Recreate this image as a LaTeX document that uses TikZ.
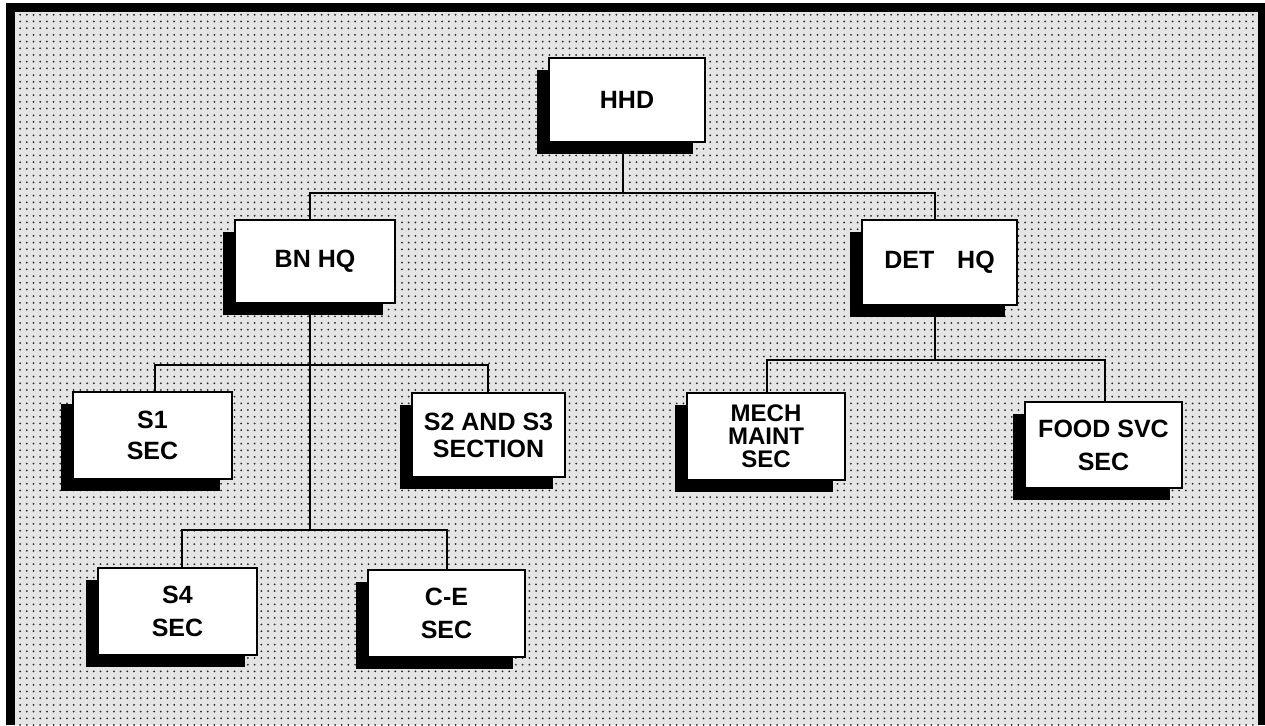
\documentclass[tikz,border=0pt]{standalone}
\usepackage{fontspec}
\setmainfont{Liberation Sans}
\usetikzlibrary{shadows,patterns.meta}
\pgfdeclarelayer{bg}
\pgfdeclarelayer{conn}
\pgfsetlayers{bg,conn,main}
\begin{document}
\begin{tikzpicture}[x=1pt,y=-1pt,
  box/.style={draw=black,line width=1.1pt,fill=white,align=center,inner sep=0pt,
    font=\fontsize{25}{31}\selectfont\bfseries,
    general shadow={fill=black,shadow xshift=-12pt,shadow yshift=-12pt}},
  conn/.style={draw=black,line width=1.6pt}]
\useasboundingbox (0,0) rectangle (1265,725);
\begin{pgfonlayer}{bg}
\fill[white] (0,0) rectangle (1265,725);
\fill[black!10] (15,12) rectangle (1258,725);
\fill[pattern={Dots[distance=6.7pt,radius=1pt]},pattern color=black!85] (15,12) rectangle (1258,725);
\draw[line width=9pt] (10.5,725) -- (10.5,7.5) -- (1262,7.5);
\draw[line width=7pt] (1261.5,3) -- (1261.5,725);
\end{pgfonlayer}

\node[box,minimum width=156pt,minimum height=84pt] (hhd) at (627,100) {HHD};
\node[box,minimum width=160pt,minimum height=83pt] (bnhq) at (315,261.5) {BN HQ};
\node[box,minimum width=155pt,minimum height=85pt] (dethq) at (939.5,262.5) {DET\hspace{16pt} HQ};
\node[box,minimum width=159pt,minimum height=87pt] (s1) at (152.5,435.5) {S1\\SEC};
\node[box,minimum width=153pt,minimum height=84pt,font=\fontsize{25}{27}\selectfont\bfseries] (s2) at (488.5,435) {S2 AND S3\\SECTION};
\node[box,minimum width=158pt,minimum height=87pt,font=\fontsize{24}{23}\selectfont\bfseries] (mech) at (766,436.5) {MECH\\MAINT\\SEC};
\node[box,minimum width=157pt,minimum height=86pt,font=\fontsize{25}{33}\selectfont\bfseries] (food) at (1103.5,445) {FOOD SVC\\SEC};
\node[box,minimum width=159pt,minimum height=87pt,font=\fontsize{25}{33}\selectfont\bfseries] (s4) at (177.5,611.5) {S4\\SEC};
\node[box,minimum width=157pt,minimum height=87pt,font=\fontsize{25}{33}\selectfont\bfseries] (ce) at (446.5,613.5) {C-E\\SEC};

\begin{pgfonlayer}{conn}
\coordinate (j0) at (623,193);
\coordinate (j1) at (310,365);
\coordinate (j2) at (310,530);
\coordinate (j3) at (935,360);
\draw[conn,line width=2pt] ([xshift=-4pt]hhd.south) -- (j0);
\draw[conn] ([xshift=-5pt]bnhq.north) |- (j0) -| ([xshift=-4.5pt]dethq.north);
\draw[conn] ([xshift=-5pt]bnhq.south) -- (j2);
\draw[conn] ([xshift=2.5pt]s1.north) |- (j1) -| ([xshift=-0.5pt]s2.north);
\draw[conn] ([xshift=4.5pt]s4.north) |- (j2) -| ([xshift=0.5pt]ce.north);
\draw[conn] ([xshift=-4.5pt]dethq.south) -- (j3);
\draw[conn] ([xshift=1pt]mech.north) |- (j3) -| ([xshift=1.5pt]food.north);
\end{pgfonlayer}
\end{tikzpicture}
\end{document}
